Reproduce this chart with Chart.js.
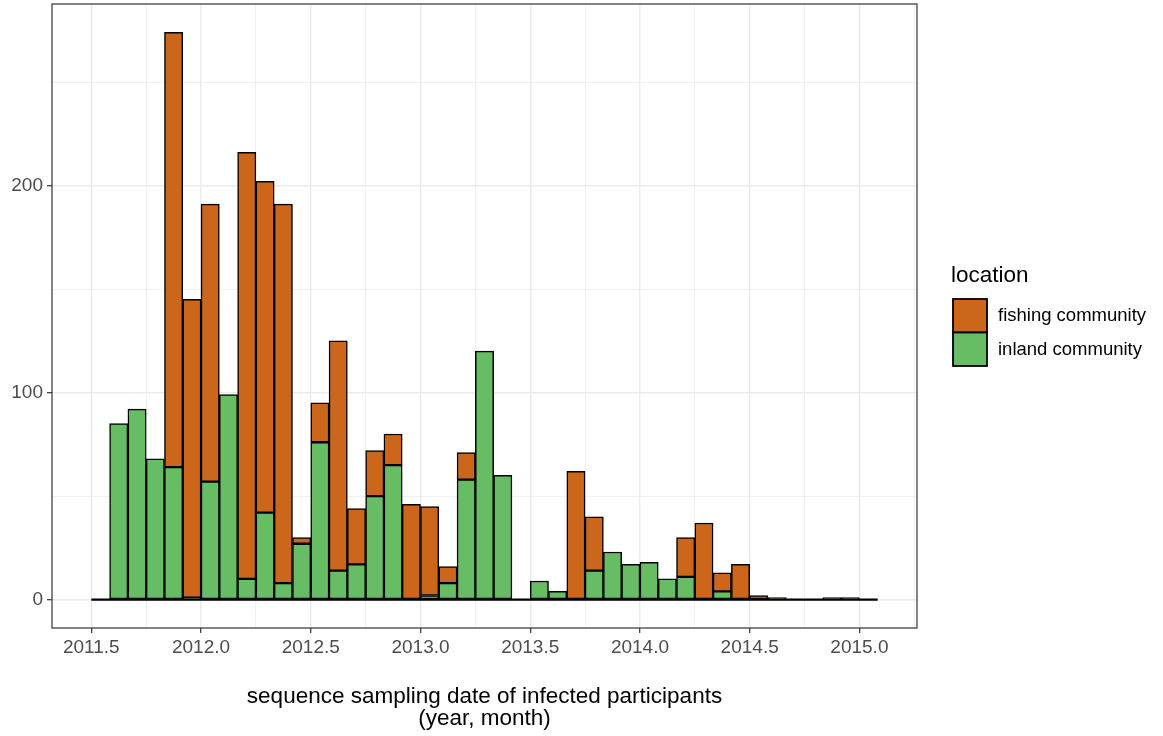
<!DOCTYPE html>
<html>
<head>
<meta charset="utf-8">
<script src="https://cdn.jsdelivr.net/npm/chart.js@4/dist/chart.umd.min.js"></script>
<style>
  html, body { margin: 0; padding: 0; background: #fff; }
  #canvas { display: block; }
</style>
</head>
<body>
<canvas id="canvas" width="1163" height="736"></canvas>
<script>
// monthly bins of sampling date
var months = [
    "2011-07", "2011-08", "2011-09", "2011-10", "2011-11", "2011-12",
    "2012-01", "2012-02", "2012-03", "2012-04", "2012-05", "2012-06",
    "2012-07", "2012-08", "2012-09", "2012-10", "2012-11", "2012-12",
    "2013-01", "2013-02", "2013-03", "2013-04", "2013-05", "2013-06",
    "2013-07", "2013-08", "2013-09", "2013-10", "2013-11", "2013-12",
    "2014-01", "2014-02", "2014-03", "2014-04", "2014-05", "2014-06",
    "2014-07", "2014-08", "2014-09", "2014-10", "2014-11", "2014-12",
    "2015-01"
];

var inland = [
    0, 85, 92, 68, 64, 1, 57, 99, 10, 42, 8, 27,
    76, 14, 17, 50, 65, 0, 2, 8, 58, 120, 60, 0,
    9, 4, 0, 14, 23, 17, 18, 10, 11, 0, 4, 0,
    0, 0, 0, 0, 0, 0, 0
];

var fishing = [
    0, 0, 0, 0, 210, 144, 134, 0, 206, 160, 183, 3,
    19, 111, 27, 22, 15, 46, 43, 8, 13, 0, 0, 0,
    0, 0, 62, 26, 0, 0, 0, 0, 19, 37, 9, 17,
    2, 1, 0, 0, 1, 1, 0
];

var xTicks = [2011.5, 2011.75, 2012.0, 2012.25, 2012.5, 2012.75, 2013.0, 2013.25,
              2013.5, 2013.75, 2014.0, 2014.25, 2014.5, 2014.75, 2015.0, 2015.25];
var yTicks = [0, 50, 100, 150, 200, 250];

var colors = {
    fishing: '#CC661B',
    inland: '#66BD63'
};

var FONT = '"Liberation Sans", Arial, Helvetica, sans-serif';

// month string -> decimal year of bin start
function binStart(m) {
    var p = m.split('-');
    return parseInt(p[0], 10) + (parseInt(p[1], 10) - 1) / 12;
}

var binW = 1 / 12;
var firstEdge = binStart(months[0]);
var lastEdge = binStart(months[months.length - 1]) + binW;
var xPad = (lastEdge - firstEdge) * 0.05;

function points(values) {
    return months.map(function (m, i) {
        return { x: binStart(m) + binW / 2, y: values[i] };
    });
}

var maxTotal = Math.max.apply(null, inland.map(function (v, i) { return v + fishing[i]; }));

function halfStep(v) { return Math.abs(v * 2 - Math.round(v * 2)) < 1e-9; }
function isMajorX(c) { return !c || !c.tick || halfStep(c.tick.value); }
function isMajorY(c) { return !c || !c.tick || c.tick.value % 100 === 0; }

var panelPlugin = {
    id: 'panel',
    afterDatasetsDraw: function (chart) {
        var ctx = chart.ctx;
        var x = chart.scales.x, y = chart.scales.y;
        // baseline under all bins (empty bins show as flat outlines)
        ctx.save();
        ctx.strokeStyle = '#000';
        ctx.lineWidth = 2.4;
        ctx.beginPath();
        ctx.moveTo(x.getPixelForValue(firstEdge), y.getPixelForValue(0));
        ctx.lineTo(x.getPixelForValue(lastEdge), y.getPixelForValue(0));
        ctx.stroke();
        ctx.restore();
    },
    afterDraw: function (chart) {
        var ctx = chart.ctx;
        var a = chart.chartArea;
        ctx.save();
        ctx.strokeStyle = '#333333';
        ctx.lineWidth = 1.2;
        ctx.strokeRect(a.left, a.top, a.right - a.left, a.bottom - a.top);

        // axis title
        ctx.fillStyle = '#000';
        ctx.font = '22.5px ' + FONT;
        ctx.textAlign = 'center';
        ctx.textBaseline = 'middle';
        var cx = (a.left + a.right) / 2;
        ctx.fillText('sequence sampling date of infected participants', cx, 697);
        ctx.fillText('(year, month)', cx, 719);

        // legend
        ctx.textAlign = 'left';
        ctx.fillText('location', 951, 276);
        var items = [
            { label: 'fishing community', color: colors.fishing },
            { label: 'inland community', color: colors.inland }
        ];
        ctx.font = '18.5px ' + FONT;
        items.forEach(function (it, i) {
            var top = 299 + i * 33.5;
            ctx.fillStyle = it.color;
            ctx.fillRect(953, top, 34, 33.5);
            ctx.strokeStyle = '#000';
            ctx.lineWidth = 1.8;
            ctx.strokeRect(953, top, 34, 33.5);
            ctx.fillStyle = '#000';
            ctx.fillText(it.label, 998, top + 17);
        });
        ctx.restore();
    }
};

var config = {
    type: 'bar',
    data: {
        datasets: [{
            label: 'inland community',
            data: points(inland),
            backgroundColor: colors.inland,
            borderColor: '#000',
            borderWidth: 1.5,
            borderSkipped: false
        }, {
            label: 'fishing community',
            data: points(fishing),
            backgroundColor: colors.fishing,
            borderColor: '#000',
            borderWidth: 1.5,
            borderSkipped: false
        }]
    },
    options: {
        responsive: false,
        animation: false,
        devicePixelRatio: 1,
        barPercentage: 1,
        categoryPercentage: 1,
        layout: { padding: { top: 4, right: 246, bottom: 0, left: 0 } },
        plugins: {
            legend: { display: false },
            tooltip: { enabled: false }
        },
        scales: {
            x: {
                type: 'linear',
                stacked: true,
                offset: false,
                min: firstEdge - xPad,
                max: lastEdge + xPad,
                afterBuildTicks: function (scale) {
                    scale.ticks = xTicks.map(function (v) { return { value: v }; });
                },
                afterFit: function (scale) {
                    scale.height = 108;
                    scale.paddingLeft = 0;
                    scale.paddingRight = 0;
                },
                border: { display: false },
                grid: {
                    offset: false,
                    color: '#EBEBEB',
                    lineWidth: function (c) { return isMajorX(c) ? 1.4 : 0.7; },
                    tickColor: function (c) { return isMajorX(c) ? '#333333' : 'rgba(0,0,0,0)'; },
                    tickWidth: 1.2,
                    tickLength: 5
                },
                ticks: {
                    autoSkip: false,
                    maxRotation: 0,
                    padding: 3,
                    color: '#4D4D4D',
                    font: { family: FONT, size: 19 },
                    callback: function (v) { return halfStep(v) ? v.toFixed(1) : ''; }
                }
            },
            y: {
                stacked: true,
                min: -maxTotal * 0.05,
                max: maxTotal * 1.05,
                afterBuildTicks: function (scale) {
                    scale.ticks = yTicks.map(function (v) { return { value: v }; });
                },
                afterFit: function (scale) {
                    scale.width = 52;
                    scale.paddingTop = 0;
                    scale.paddingBottom = 0;
                },
                border: { display: false },
                grid: {
                    color: '#EBEBEB',
                    lineWidth: function (c) { return isMajorY(c) ? 1.4 : 0.7; },
                    tickColor: function (c) { return isMajorY(c) ? '#333333' : 'rgba(0,0,0,0)'; },
                    tickWidth: 1.2,
                    tickLength: 5
                },
                ticks: {
                    padding: 4,
                    color: '#4D4D4D',
                    font: { family: FONT, size: 19 },
                    callback: function (v) { return v % 100 === 0 ? String(v) : ''; }
                }
            }
        }
    },
    plugins: [panelPlugin]
};

window.myHist = new Chart(document.getElementById('canvas'), config);
</script>
</body>
</html>
